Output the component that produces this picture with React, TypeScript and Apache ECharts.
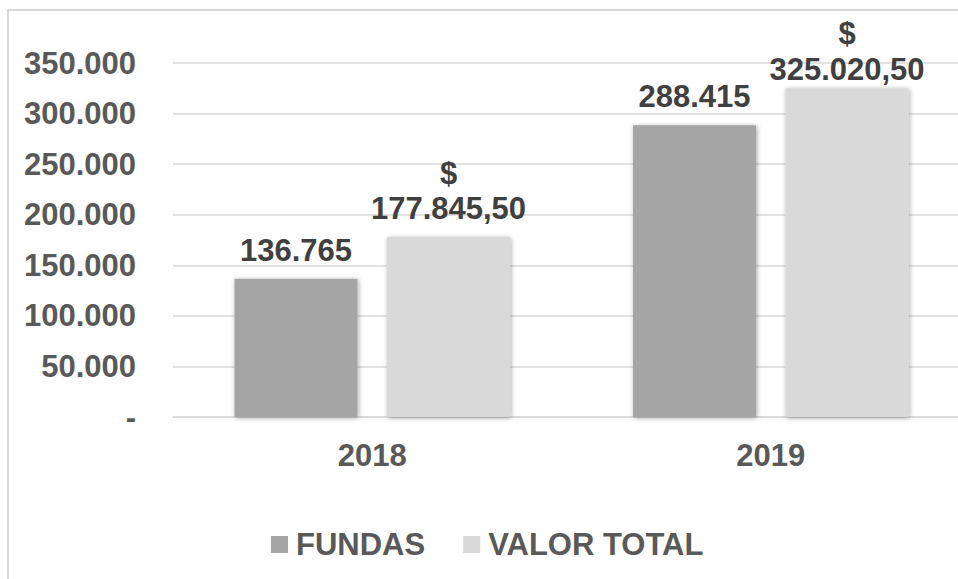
import React, { useEffect, useRef } from "react";
import * as echarts from "echarts";

const categories = ["2018", "2019"];
const fundas = [136765, 288415];
const valorTotal = [177845.5, 325020.5];
const seriesNames = ["FUNDAS", "VALOR TOTAL"];
const yTicks = { min: 0, max: 350000, interval: 50000 };

const FONT = "Arial, 'Liberation Sans', sans-serif";

function fmtInt(v: number): string {
  const s = Math.round(v).toString();
  return s.replace(/\B(?=(\d{3})+(?!\d))/g, ".");
}
function fmtMoney(v: number): string {
  const intPart = Math.floor(v);
  const dec = Math.round((v - intPart) * 100).toString().padStart(2, "0");
  return fmtInt(intPart) + "," + dec;
}

export default function App() {
  const ref = useRef<HTMLDivElement>(null);
  useEffect(() => {
    if (!ref.current) return;
    const chart = echarts.init(ref.current, undefined, { renderer: "svg" });
    const valorDist = [11, 1];
    const valorLH = [35, 36];
    chart.setOption({
      animation: false,
      backgroundColor: "#ffffff",
      textStyle: { fontFamily: FONT },
      graphic: [
        {
          type: "rect",
          shape: { x: 8, y: 10, width: 2000, height: 2000 },
          style: { fill: "none", stroke: "#d9d9d9", lineWidth: 2 },
          silent: true,
        },
      ],
      legend: {
        left: 266,
        top: 524,
        icon: "rect",
        itemWidth: 17,
        itemHeight: 17,
        itemGap: 38,
        data: seriesNames,
        textStyle: {
          fontFamily: FONT,
          fontSize: 31,
          fontWeight: "bold",
          color: "#595959",
          padding: [0, 0, 0, 3],
        },
      },
      grid: { left: 173, right: 30, top: 63, bottom: 183, containLabel: false },
      xAxis: {
        type: "category",
        data: categories,
        axisTick: { show: false },
        axisLine: { lineStyle: { color: "#d9d9d9", width: 1.5 } },
        axisLabel: {
          margin: 23,
          fontFamily: FONT,
          fontSize: 31,
          fontWeight: "bold",
          color: "#595959",
        },
      },
      yAxis: {
        type: "value",
        min: yTicks.min,
        max: yTicks.max,
        interval: yTicks.interval,
        axisLine: { show: false },
        axisTick: { show: false },
        splitLine: { lineStyle: { color: "#d9d9d9", width: 1.5 } },
        axisLabel: {
          margin: 37,
          fontFamily: FONT,
          fontSize: 31,
          fontWeight: "bold",
          color: "#595959",
          formatter: (v: number) => (v === 0 ? "-" : fmtInt(v)),
        },
      },
      series: [
        {
          name: seriesNames[0],
          type: "bar",
          data: fundas,
          barWidth: 123,
          barGap: "24%",
          itemStyle: {
            color: "#a5a5a5",
            shadowBlur: 5,
            shadowColor: "rgba(0,0,0,0.35)",
            shadowOffsetX: 1,
            shadowOffsetY: 1,
          },
          label: {
            show: true,
            position: "top",
            distance: 13,
            fontFamily: FONT,
            fontSize: 31,
            fontWeight: "bold",
            color: "#404040",
            formatter: (p: any) => fmtInt(p.value),
          },
        },
        {
          name: seriesNames[1],
          type: "bar",
          data: valorTotal.map((v, i) => ({
            value: v,
            label: { distance: valorDist[i], lineHeight: valorLH[i] },
          })),
          barWidth: 123,
          barGap: "24%",
          itemStyle: {
            color: "#d9d9d9",
            shadowBlur: 5,
            shadowColor: "rgba(0,0,0,0.35)",
            shadowOffsetX: 1,
            shadowOffsetY: 1,
          },
          label: {
            show: true,
            position: "top",
            fontFamily: FONT,
            fontSize: 31,
            fontWeight: "bold",
            color: "#404040",
            align: "center",
            formatter: (p: any) => "$\n" + fmtMoney(p.value),
          },
        },
      ],
    });
    return () => chart.dispose();
  }, []);
  return (
    <div
      style={{
        position: "fixed",
        left: 0,
        top: 0,
        width: 958,
        height: 579,
        overflow: "hidden",
        background: "#fff",
      }}
    >
      <div ref={ref} style={{ width: 1000, height: 600 }} />
    </div>
  );
}
